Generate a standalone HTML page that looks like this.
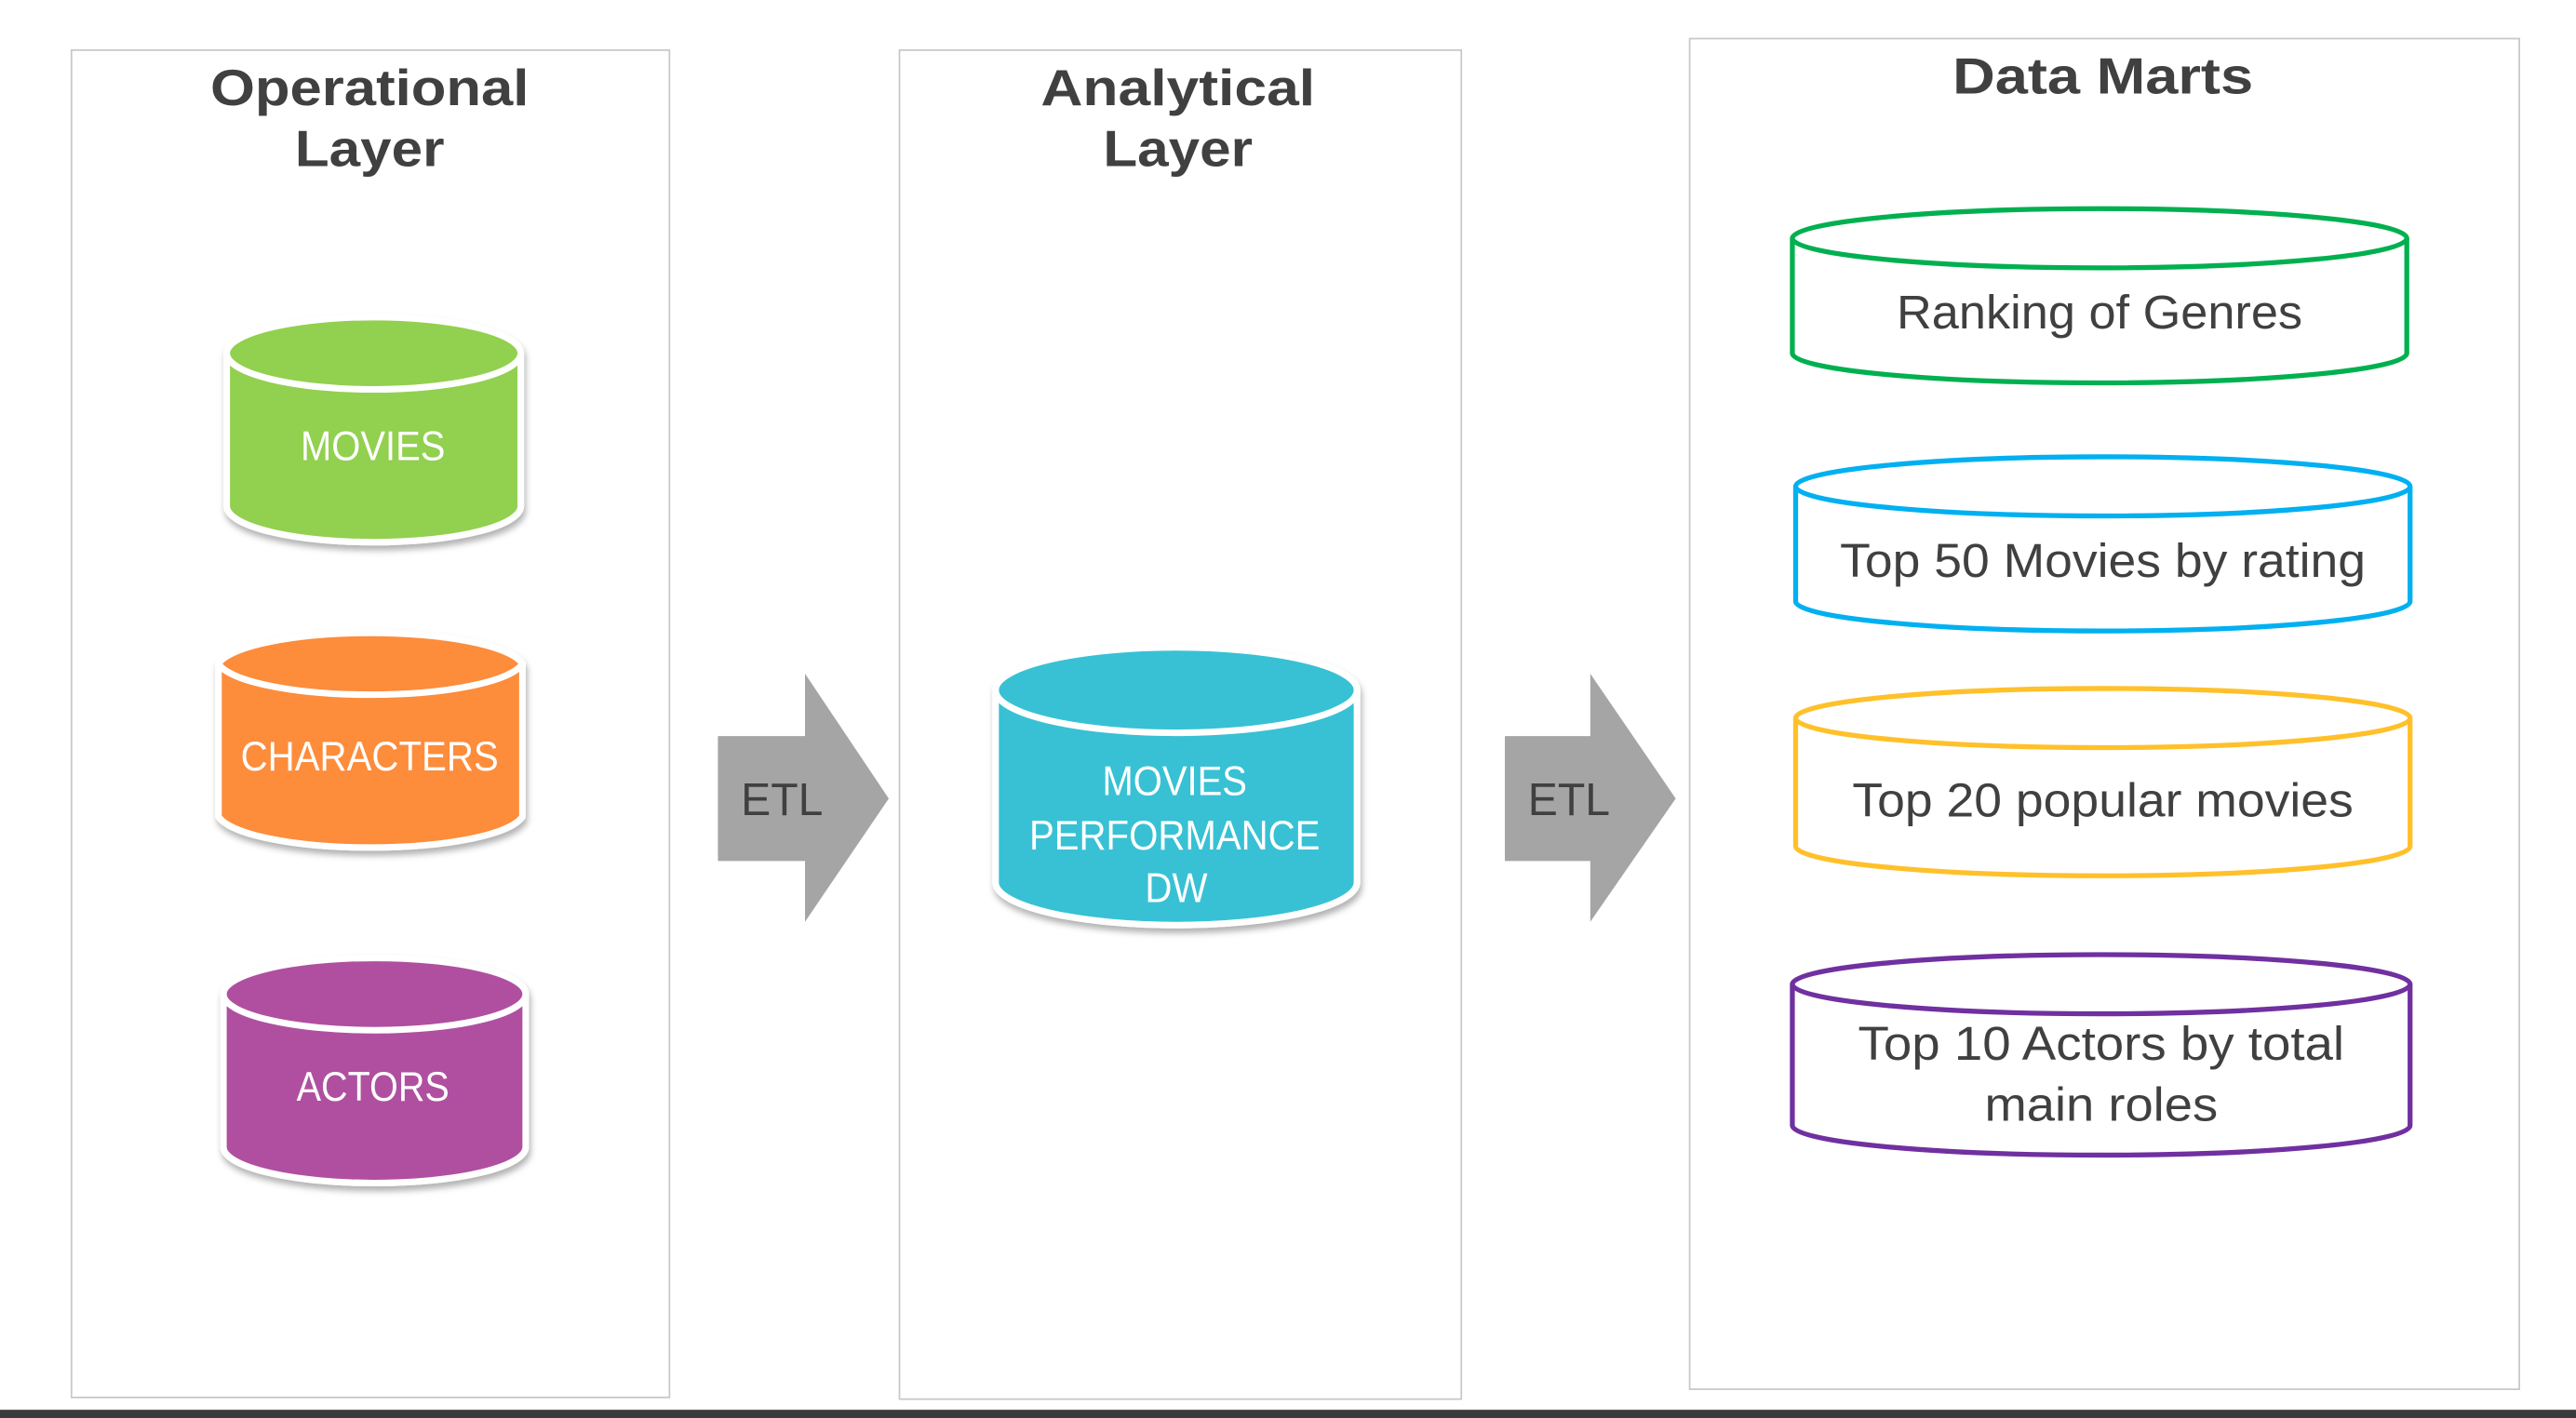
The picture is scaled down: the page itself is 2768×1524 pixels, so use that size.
<!DOCTYPE html>
<html><head><meta charset="utf-8">
<style>
html,body{margin:0;padding:0;background:#fff;}
svg{display:block;}
</style></head>
<body>
<svg width="2768" height="1524" viewBox="0 0 1568 863" preserveAspectRatio="none" xmlns="http://www.w3.org/2000/svg" font-family="Liberation Sans, sans-serif">
<defs>
<filter id="sh" x="-20%" y="-20%" width="140%" height="150%">
<feDropShadow dx="1" dy="3" stdDeviation="2" flood-color="#000" flood-opacity="0.3"/>
</filter>
</defs>
<rect width="1568" height="863" fill="#fff"/>
<!-- panels -->
<rect x="43.5" y="30.5" width="364" height="820" fill="none" stroke="#c8c8c8" stroke-width="1"/>
<rect x="547.5" y="30.5" width="342" height="821" fill="none" stroke="#c8c8c8" stroke-width="1"/>
<rect x="1028.5" y="23.5" width="505" height="822" fill="none" stroke="#c8c8c8" stroke-width="1"/>
<rect x="0" y="858" width="1568" height="5" fill="#3a3a3a"/>

<!-- titles -->
<g fill="#404040" font-weight="bold" font-size="31" text-anchor="middle">
<text x="225" y="64" textLength="194" lengthAdjust="spacingAndGlyphs">Operational</text>
<text x="225" y="101" textLength="91" lengthAdjust="spacingAndGlyphs">Layer</text>
<text x="717" y="64" textLength="167" lengthAdjust="spacingAndGlyphs">Analytical</text>
<text x="717" y="101" textLength="91" lengthAdjust="spacingAndGlyphs">Layer</text>
<text x="1280" y="57" textLength="183" lengthAdjust="spacingAndGlyphs">Data Marts</text>
</g>

<!-- filled cylinders -->
<g stroke="#fff" stroke-width="4" filter="url(#sh)">
<path d="M138,215 L138,308 A89.5,22 0 0 0 317,308 L317,215 A89.5,22 0 0 0 138,215 Z" fill="#92d050"/>
<path d="M133,404 L133,497 A93.5,22 0 0 0 318,497 L318,404 A93.5,22 0 0 0 133,404 Z" fill="#fd8c3a"/>
<path d="M136,605 L136,698 A92,22 0 0 0 320,698 L320,605 A92,22 0 0 0 136,605 Z" fill="#b04fa0"/>
<path d="M606,420 L606,537 A110,26 0 0 0 826,537 L826,420 A110,26 0 0 0 606,420 Z" fill="#38c1d4"/>
</g>
<g fill="none" stroke="#fff" stroke-width="4">
<path d="M138,215 A89.5,22 0 0 0 317,215"/>
<path d="M133,404 A93.5,22 0 0 0 318,404"/>
<path d="M136,605 A92,22 0 0 0 320,605"/>
<path d="M606,420 A110,26 0 0 0 826,420"/>
</g>
<g fill="#fff" font-size="25" text-anchor="middle">
<text x="227" y="280" textLength="88" lengthAdjust="spacingAndGlyphs">MOVIES</text>
<text x="225" y="469" textLength="157" lengthAdjust="spacingAndGlyphs">CHARACTERS</text>
<text x="227" y="670" textLength="93" lengthAdjust="spacingAndGlyphs">ACTORS</text>
<text x="715" y="484" textLength="88" lengthAdjust="spacingAndGlyphs">MOVIES</text>
<text x="715" y="517" textLength="177" lengthAdjust="spacingAndGlyphs">PERFORMANCE</text>
<text x="716" y="549" textLength="38" lengthAdjust="spacingAndGlyphs">DW</text>
</g>

<!-- arrows -->
<path d="M437,448 L490,448 L490,410 L541,486 L490,561 L490,524 L437,524 Z" fill="#a5a5a5"/>
<path d="M916,448 L968,448 L968,410 L1020,486 L968,561 L968,524 L916,524 Z" fill="#a5a5a5"/>
<g fill="#404040" font-size="28" text-anchor="middle">
<text x="476" y="496" textLength="50" lengthAdjust="spacingAndGlyphs">ETL</text>
<text x="955" y="496" textLength="50" lengthAdjust="spacingAndGlyphs">ETL</text>
</g>

<!-- data mart cylinders -->
<g fill="#fff" stroke-width="3">
<g stroke="#00b050">
<path d="M1091,145 L1091,215 A187,18 0 0 0 1465,215 L1465,145 A187,18 0 0 0 1091,145 Z"/>
<path d="M1091,145 A187,18 0 0 0 1465,145" fill="none"/>
</g>
<g stroke="#00b0f0">
<path d="M1093,296 L1093,366 A187,18 0 0 0 1467,366 L1467,296 A187,18 0 0 0 1093,296 Z"/>
<path d="M1093,296 A187,18 0 0 0 1467,296" fill="none"/>
</g>
<g stroke="#ffc02a">
<path d="M1093,437 L1093,515 A187,18 0 0 0 1467,515 L1467,437 A187,18 0 0 0 1093,437 Z"/>
<path d="M1093,437 A187,18 0 0 0 1467,437" fill="none"/>
</g>
<g stroke="#7030a0">
<path d="M1091,599 L1091,685 A188,18 0 0 0 1467,685 L1467,599 A188,18 0 0 0 1091,599 Z"/>
<path d="M1091,599 A188,18 0 0 0 1467,599" fill="none"/>
</g>
</g>
<g fill="#404040" font-size="29" text-anchor="middle">
<text x="1278" y="200" textLength="247" lengthAdjust="spacingAndGlyphs">Ranking of Genres</text>
<text x="1280" y="351" textLength="320" lengthAdjust="spacingAndGlyphs">Top 50 Movies by rating</text>
<text x="1280" y="497" textLength="305" lengthAdjust="spacingAndGlyphs">Top 20 popular movies</text>
<text x="1279" y="645" textLength="296" lengthAdjust="spacingAndGlyphs">Top 10 Actors by total</text>
<text x="1279" y="682" textLength="142" lengthAdjust="spacingAndGlyphs">main roles</text>
</g>
</svg>
</body></html>
